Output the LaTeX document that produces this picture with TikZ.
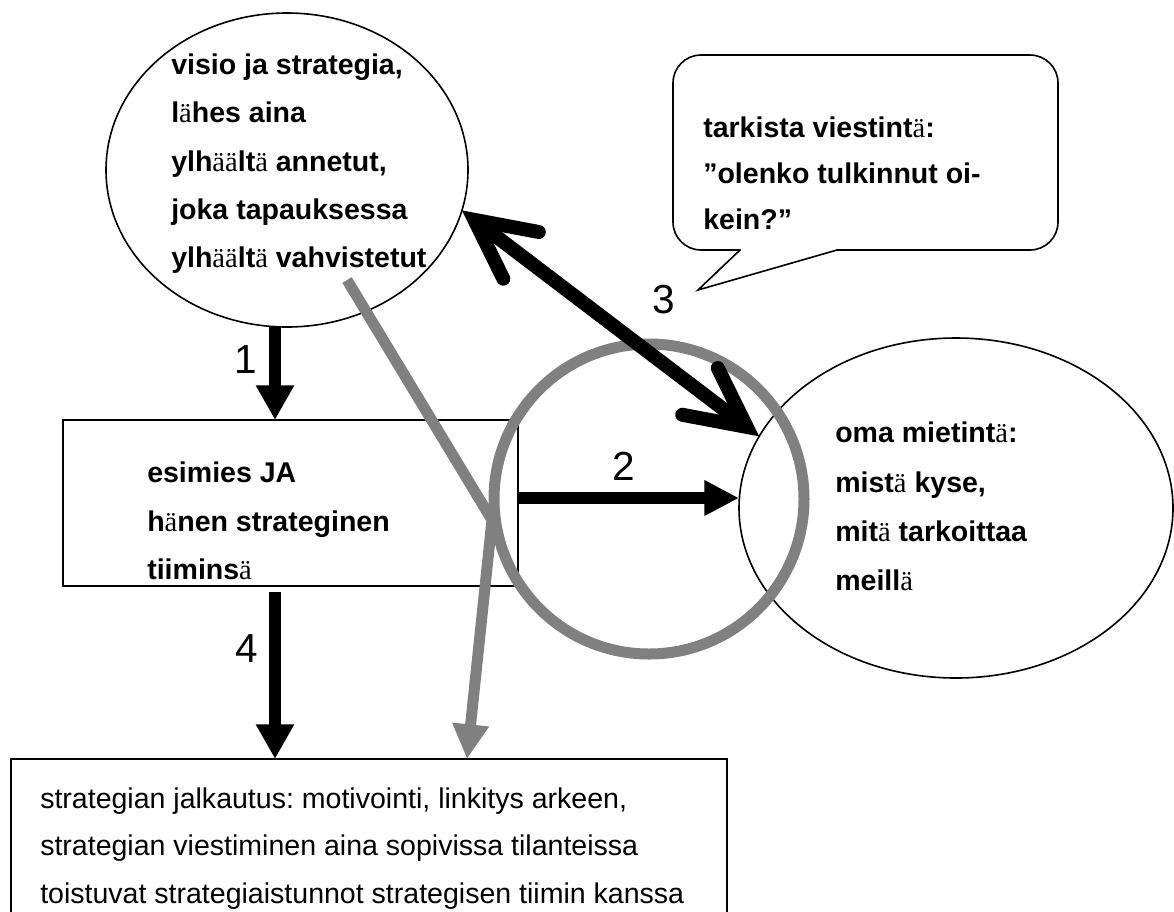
\documentclass[tikz,border=0pt]{standalone}
\usepackage{fontspec}
\setmainfont{Liberation Sans}
\newfontfamily\serifont{Liberation Serif}
\newcommand{\ssa}{{\serifont\mdseries ä}}
\usetikzlibrary{arrows.meta,shapes.geometric,positioning}
\definecolor{harmaa}{HTML}{808080}
\frenchspacing

\begin{document}
\begin{tikzpicture}[x=0.75pt,y=-0.75pt,
    kupu/.style={draw,ellipse,line width=1.2pt,inner sep=0pt,outer sep=0pt},
    laatikko/.style={draw,rectangle,line width=1.2pt,inner sep=0pt,outer sep=0pt},
    rengas/.style={draw=harmaa,circle,line width=8.25pt,minimum size=232.5pt,inner sep=0pt,outer sep=0pt},
    teksti/.style={anchor=north west,inner sep=0pt,align=left},
    numero/.style={inner sep=0pt,font=\fontsize{30.4}{36}\selectfont},
    musta/.style={line width=9pt,-{Triangle[length=26pt,width=27pt]}},
    tupla/.style={line width=10.5pt,
        {Straight Barb[length=44pt,width=44pt,line cap=round,line join=miter]}-{Straight Barb[length=44pt,width=44pt,line cap=round,line join=miter]}},
    harmaanuoli/.style={draw=harmaa,line width=8.25pt,-{Triangle[length=26pt,width=26pt]}}]
    \useasboundingbox (0,0) rectangle (1174,911);
    \clip (0,0) rectangle (1174,911);
    \node[kupu,minimum width=271.5pt,minimum height=235.5pt] (visio) at (287,170) {};
    \node[kupu,minimum width=325.5pt,minimum height=255pt] (oma) at (956,508) {};
    \node[laatikko,minimum width=341.25pt,minimum height=124.5pt] (esimies) at (290.5,503) {};
    \node[laatikko,minimum width=537pt,minimum height=128.25pt] (jalkautus) at (369,844.5) {};
    \node[rengas] (fokus) at (649,499) {};
    \coordinate (g1) at (347,280);
    \coordinate (g2) at (492,520);
    \coordinate (g3) at (467,0);
    \draw[harmaanuoli] (g1) -- (g2) -- (jalkautus.north -| g3);
    % puhekupla
    \draw[line width=1.2pt,line cap=round,rounded corners=21pt] (740,250) -- (673,250) -- (673,55) -- (1058,55) -- (1058,250) -- (837,250);
    \draw[line width=1.2pt,line cap=round] (740,250) -- (698,290) -- (837,250);
    \node[teksti,font=\bfseries\fontsize{21.4}{36.2}\selectfont] (visioteksti) at (171,53.6)
        {visio ja strategia,\\ l\ssa hes aina\\ ylh\ssa\ssa lt\ssa{} annetut,\\ joka tapauksessa\\ ylh\ssa\ssa lt\ssa{} vahvistetut};
    \node[teksti,font=\bfseries\fontsize{21.4}{34.5}\selectfont] (kuplateksti) at (703,116.6)
        {tarkista viestint\ssa:\\ ”olenko tulkinnut oi-\\ kein?”};
    \node[teksti,font=\bfseries\fontsize{21.4}{36.5}\selectfont] (esimiesteksti) at (147,461.6)
        {esimies JA\\ h\ssa nen strateginen\\ tiimins\ssa};
    \node[teksti,font=\bfseries\fontsize{21.4}{37.1}\selectfont] (omateksti) at (835,421.6)
        {oma mietint\ssa:\\ mist\ssa{} kyse,\\ mit\ssa{} tarkoittaa\\ meill\ssa};
    \node[teksti,font=\fontsize{21.4}{35.5}\selectfont] (jalkautusteksti) at (40,787.6)
        {strategian jalkautus: motivointi, linkitys arkeen,\\ strategian viestiminen aina sopivissa tilanteissa\\ toistuvat strategiaistunnot strategisen tiimin kanssa};
    \coordinate (sarake) at (275,0);
    \draw[musta] (visio.south -| sarake) -- (esimies.north -| sarake);
    \draw[musta,shorten <=4.5pt] (esimies.south -| sarake) -- (jalkautus.north -| sarake);
    \draw[line width=9pt,-{Triangle[length=26pt,width=25pt]}] ([yshift=3.75pt]esimies.east) -- ([yshift=3.75pt]esimies.east -| oma.west);
    \draw[tupla] (oma.160) -- (visio.-13);
    \node[numero] (n1) at (246,360) {1};
    \node[numero] (n2) at (624,466) {2};
    \node[numero] (n3) at (664,300) {3};
    \node[numero] (n4) at (247,649) {4};
\end{tikzpicture}
\end{document}
